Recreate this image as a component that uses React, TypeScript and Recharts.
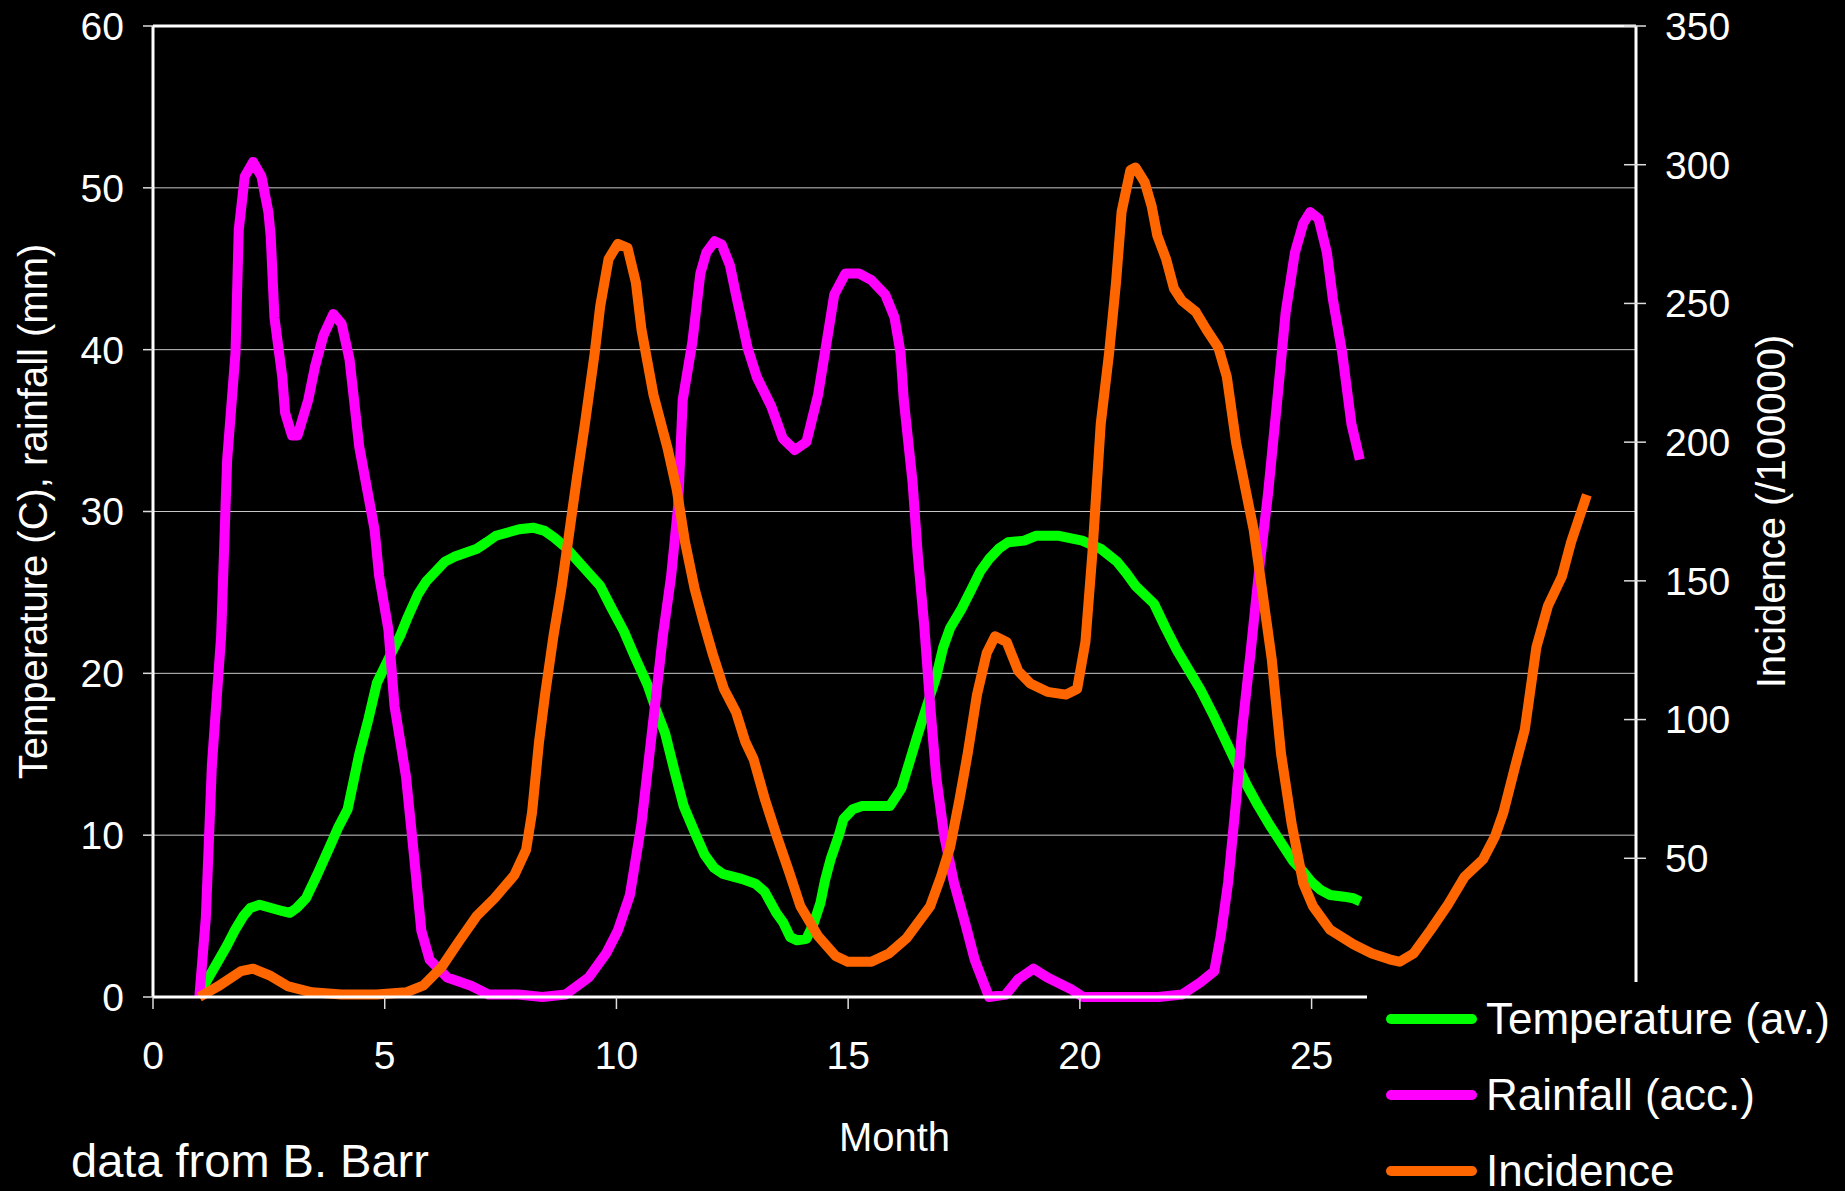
import React from "react";
import { LineChart, Line, XAxis, YAxis, CartesianGrid, ReferenceLine } from "recharts";

const FONT = "'Liberation Sans', Arial, sans-serif";

// axis ticks (30 on the x axis and 0 on the right axis sit under the legend box)
const monthTicks = [0, 5, 10, 15, 20, 25];
const leftTicks = [0, 10, 20, 30, 40, 50, 60];
const rightTicks = [0, 50, 100, 150, 200, 250, 300, 350];

// [month, temperature C]
const temperature = [
  [1.0, 0.2], [1.2, 1.2], [1.4, 2.2], [1.6, 3.2], [1.78, 4.2], [1.95, 5.0], [2.1, 5.5], [2.3, 5.7],
  [2.55, 5.5], [2.8, 5.3], [2.95, 5.2], [3.1, 5.5], [3.3, 6.1], [3.55, 7.6], [3.8, 9.2], [4.0, 10.5],
  [4.2, 11.6], [4.45, 15.0], [4.65, 17.2], [4.83, 19.4], [5.1, 21.0], [5.33, 22.3], [5.5, 23.5],
  [5.72, 24.9], [5.9, 25.7], [6.1, 26.3], [6.3, 26.9], [6.5, 27.2], [6.99, 27.7], [7.2, 28.1],
  [7.4, 28.5], [7.9, 28.9], [8.2, 29.0], [8.45, 28.8], [8.65, 28.4], [8.9, 27.8], [9.15, 27.0],
  [9.4, 26.2], [9.65, 25.4], [9.9, 24.0], [10.16, 22.6], [10.4, 21.0], [10.67, 19.3], [10.85, 17.8],
  [11.05, 16.3], [11.25, 14.0], [11.45, 11.8], [11.7, 10.1], [11.9, 8.8], [12.1, 8.0], [12.3, 7.6],
  [12.7, 7.3], [13.0, 7.0], [13.2, 6.5], [13.45, 5.2], [13.6, 4.6], [13.75, 3.7], [13.9, 3.5],
  [14.1, 3.6], [14.25, 4.5], [14.4, 5.8], [14.5, 7.2], [14.62, 8.5], [14.8, 10.0], [14.9, 11.0],
  [15.1, 11.6], [15.3, 11.8], [15.9, 11.8], [16.15, 12.9], [16.3, 14.3], [16.5, 16.2], [16.7, 18.0],
  [16.9, 19.8], [17.05, 21.6], [17.2, 22.8], [17.45, 24.0], [17.66, 25.2], [17.85, 26.3],
  [18.05, 27.1], [18.25, 27.7], [18.45, 28.1], [18.8, 28.2], [19.05, 28.5], [19.55, 28.5],
  [20.05, 28.2], [20.45, 27.7], [20.8, 26.9], [21.0, 26.2], [21.2, 25.4], [21.6, 24.3], [21.85, 22.8],
  [22.1, 21.4], [22.35, 20.2], [22.6, 19.0], [22.85, 17.6], [23.1, 16.1], [23.35, 14.6], [23.6, 13.1],
  [23.85, 11.8], [24.1, 10.6], [24.35, 9.5], [24.6, 8.4], [24.8, 7.8], [25.0, 7.1], [25.2, 6.6],
  [25.4, 6.3], [25.7, 6.2], [25.9, 6.1], [26.05, 5.9],
];

// [month, rainfall mm]
const rainfall = [
  [1.0, 0], [1.14, 4.9], [1.27, 14.3], [1.47, 22.3], [1.6, 33.2], [1.78, 39.8], [1.85, 47.4],
  [1.98, 50.7], [2.16, 51.6], [2.34, 50.7], [2.49, 48.5], [2.54, 47.0], [2.62, 42.0], [2.79, 38.3],
  [2.85, 36.1], [3.0, 34.7], [3.12, 34.7], [3.35, 36.9], [3.5, 39.0], [3.68, 40.9], [3.89, 42.2],
  [4.07, 41.6], [4.24, 39.4], [4.45, 34.0], [4.78, 28.9], [4.88, 26.0], [5.08, 22.7], [5.21, 18.0],
  [5.46, 13.6], [5.64, 8.5], [5.79, 4.1], [5.97, 2.3], [6.35, 1.2], [6.86, 0.7], [7.24, 0.15],
  [7.88, 0.15], [8.4, 0], [8.9, 0.15], [9.4, 1.2], [9.78, 2.7], [10.03, 4.1], [10.29, 6.3],
  [10.54, 10.7], [10.8, 17.2], [11.0, 22.3], [11.18, 26.0], [11.33, 30.3], [11.43, 36.9],
  [11.64, 40.5], [11.81, 44.7], [11.94, 46.0], [12.12, 46.7], [12.27, 46.5], [12.45, 45.2],
  [12.58, 43.4], [12.83, 40.1], [13.03, 38.3], [13.34, 36.5], [13.59, 34.5], [13.85, 33.8],
  [14.1, 34.3], [14.35, 37.2], [14.56, 40.9], [14.7, 43.4], [14.94, 44.7], [15.24, 44.7],
  [15.5, 44.3], [15.8, 43.4], [16.0, 42.0], [16.13, 39.8], [16.2, 36.9], [16.39, 31.8], [16.5, 27.4],
  [16.64, 23.0], [16.77, 18.0], [16.9, 13.6], [17.07, 10.0], [17.28, 7.1], [17.53, 4.5],
  [17.73, 2.3], [18.04, 0], [18.4, 0.15], [18.67, 1.1], [19.0, 1.75], [19.3, 1.2], [19.8, 0.5],
  [20.07, 0], [21.1, 0], [21.7, 0], [22.2, 0.15], [22.6, 0.9], [22.9, 1.6], [23.04, 3.8], [23.2, 7.1],
  [23.37, 12.1], [23.5, 16.5], [23.68, 21.2], [23.88, 26.7], [24.06, 31.1], [24.26, 36.9],
  [24.44, 42.3], [24.64, 46.0], [24.82, 47.8], [24.97, 48.5], [25.15, 48.1], [25.33, 46.0],
  [25.46, 43.1], [25.66, 39.8], [25.86, 35.4], [26.04, 33.2],
];

// [month, incidence per 100000]
const incidence = [
  [1.0, 0], [1.4, 3.8], [1.9, 9.3], [2.16, 10.2], [2.54, 7.6], [2.92, 3.8], [3.43, 1.7], [4.07, 0.9],
  [4.83, 0.9], [5.46, 1.7], [5.84, 4.2], [6.22, 10.6], [6.6, 20.0], [6.99, 29.3], [7.37, 35.6],
  [7.8, 44.0], [8.05, 53.0], [8.18, 66.6], [8.33, 92.0], [8.46, 109.0], [8.64, 130.0], [8.81, 147.0],
  [8.97, 166.0], [9.15, 187.5], [9.32, 206.6], [9.53, 232.0], [9.65, 249.0], [9.83, 266.0],
  [10.03, 271.5], [10.24, 270.0], [10.42, 257.5], [10.54, 240.6], [10.8, 217.0], [11.1, 198.0],
  [11.3, 183.0], [11.48, 164.0], [11.69, 147.0], [11.89, 134.5], [12.07, 124.0], [12.32, 111.0],
  [12.58, 102.7], [12.78, 92.0], [12.96, 85.7], [13.21, 70.9], [13.46, 58.0], [13.72, 45.4],
  [13.97, 32.7], [14.35, 22.0], [14.73, 14.8], [14.99, 12.7], [15.5, 12.7], [15.88, 15.7],
  [16.26, 21.2], [16.77, 32.7], [17.0, 43.3], [17.2, 54.0], [17.4, 71.0], [17.58, 87.8],
  [17.78, 109.0], [17.99, 124.0], [18.17, 130.0], [18.42, 128.0], [18.67, 117.5], [18.93, 113.0],
  [19.3, 110.0], [19.7, 109.0], [19.94, 111.0], [20.12, 128.0], [20.27, 160.0], [20.45, 206.6],
  [20.63, 232.0], [20.78, 257.5], [20.9, 283.0], [21.09, 298.0], [21.2, 299.0], [21.4, 293.6],
  [21.55, 285.0], [21.67, 274.5], [21.86, 266.0], [22.03, 255.4], [22.2, 251.0], [22.5, 247.0],
  [22.73, 240.6], [22.99, 234.0], [23.17, 223.6], [23.37, 200.0], [23.55, 185.0], [23.75, 168.4],
  [23.93, 147.0], [24.14, 121.8], [24.34, 87.8], [24.57, 62.4], [24.82, 41.0], [25.03, 32.7],
  [25.4, 24.2], [25.9, 19.0], [26.3, 15.7], [26.68, 13.6], [26.9, 12.7], [27.2, 15.7], [27.57, 24.2],
  [27.95, 33.5], [28.3, 43.3], [28.7, 49.6], [28.96, 58.0], [29.14, 66.6], [29.4, 83.6],
  [29.6, 96.3], [29.85, 126.0], [30.1, 141.0], [30.4, 151.5], [30.6, 164.0], [30.94, 181.0],
];

const legendItems = [
  { name: "Temperature (av.)", color: "#00ff00" },
  { name: "Rainfall (acc.)", color: "#ff00ff" },
  { name: "Incidence", color: "#ff6600" },
];

const toRows = (pts: number[][]) => pts.map(([month, value]) => ({ month, value }));

// right axis ticks cross the axis line; the 0 label is hidden by the legend box
const RightTick = ({ x, y, payload }: any) => (
  <g>
    <line x1={x - 12} x2={x + 10} y1={y} y2={y} stroke="#dddddd" strokeWidth={1.5} />
    {payload.value !== 0 && (
      <text x={x + 29} y={y} dy="0.355em" fill="#ffffff" fontSize={39} fontFamily={FONT}>
        {payload.value}
      </text>
    )}
  </g>
);

const App = () => {
  const axisText = { fill: "#ffffff", fontSize: 39, fontFamily: FONT };
  const labelStyle = { fill: "#ffffff", fontSize: 40, fontFamily: FONT };

  return (
    <div style={{ position: "absolute", left: 0, top: 0, width: 1845, height: 1191, background: "#000" }}>
      <LineChart width={1845} height={1191} margin={{ top: 26, right: 74, bottom: 40, left: 33 }}>
        <CartesianGrid yAxisId="left" vertical={false} stroke="#c8c8c8" strokeWidth={1} />
        <XAxis
          dataKey="month"
          type="number"
          domain={[0, 32]}
          ticks={monthTicks}
          height={154}
          tickSize={12}
          tickMargin={32}
          tick={axisText}
          axisLine={{ stroke: "#ffffff", strokeWidth: 3 }}
          tickLine={{ stroke: "#dddddd", strokeWidth: 1.5 }}
          label={{ value: "Month", position: "insideBottom", offset: 0, style: labelStyle }}
        />
        <YAxis
          yAxisId="left"
          domain={[0, 60]}
          ticks={leftTicks}
          width={120}
          tickSize={10}
          tickMargin={19}
          tick={axisText}
          axisLine={{ stroke: "#ffffff", strokeWidth: 3 }}
          tickLine={{ stroke: "#dddddd", strokeWidth: 1.5 }}
          label={{
            value: "Temperature (C), rainfall (mm)",
            angle: -90,
            position: "insideLeft",
            offset: 0,
            style: { ...labelStyle, textAnchor: "middle" },
          }}
        />
        <YAxis
          yAxisId="right"
          orientation="right"
          domain={[0, 350]}
          ticks={rightTicks}
          width={135}
          tickSize={0}
          tickMargin={0}
          tickLine={false}
          tick={<RightTick />}
          axisLine={{ stroke: "#ffffff", strokeWidth: 3 }}
          label={{
            value: "Incidence (/100000)",
            angle: -90,
            position: "insideRight",
            offset: 0,
            style: { ...labelStyle, textAnchor: "middle" },
          }}
        />
        <ReferenceLine yAxisId="left" y={60} stroke="#ffffff" strokeWidth={3} />
        <Line
          yAxisId="left"
          data={toRows(temperature)}
          dataKey="value"
          type="linear"
          stroke="#00ff00"
          strokeWidth={10}
          strokeLinejoin="round"
          dot={false}
          isAnimationActive={false}
        />
        <Line
          yAxisId="left"
          data={toRows(rainfall)}
          dataKey="value"
          type="linear"
          stroke="#ff00ff"
          strokeWidth={10}
          strokeLinejoin="round"
          dot={false}
          isAnimationActive={false}
        />
        <Line
          yAxisId="right"
          data={toRows(incidence)}
          dataKey="value"
          type="linear"
          stroke="#ff6600"
          strokeWidth={10}
          strokeLinejoin="round"
          dot={false}
          isAnimationActive={false}
        />
      </LineChart>

      {/* legend box sits over the lower right corner */}
      <div style={{ position: "absolute", left: 1367, top: 982, width: 478, height: 209, background: "#000" }}>
        {legendItems.map((item, i) => (
          <div
            key={item.name}
            style={{ position: "absolute", left: 0, top: 37 + i * 76 - 30, height: 60, display: "flex", alignItems: "center" }}
          >
            <div style={{ marginLeft: 19, width: 91, height: 10, borderRadius: 5, background: item.color }} />
            <div style={{ marginLeft: 9, color: "#fff", fontSize: 44, fontFamily: FONT, lineHeight: 1, whiteSpace: "nowrap" }}>
              {item.name}
            </div>
          </div>
        ))}
      </div>

      <div style={{ position: "absolute", left: 71, top: 1137, color: "#fff", fontSize: 47, fontFamily: FONT, lineHeight: 1 }}>
        data from B. Barr
      </div>
    </div>
  );
};

export default App;
